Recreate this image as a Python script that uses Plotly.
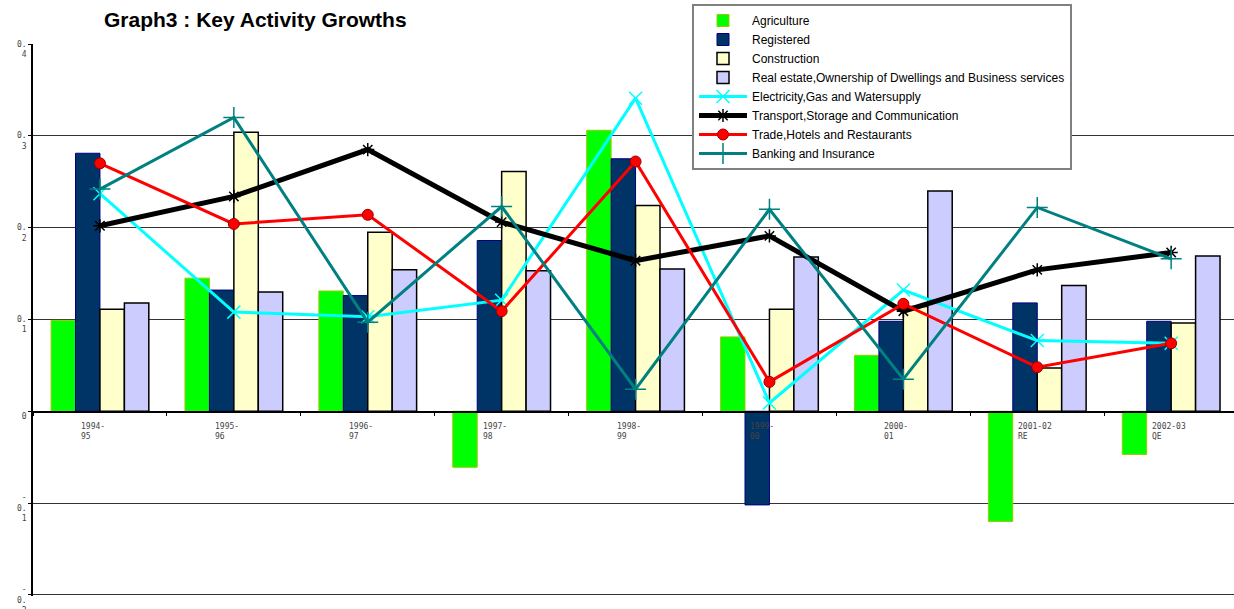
import plotly.graph_objects as go

categories = ["1994-95", "1995-96", "1996-97", "1997-98", "1998-99",
              "1999-00", "2000-01", "2001-02 RE", "2002-03 QE"]
category_labels = ["1994-<br>95", "1995-<br>96", "1996-<br>97", "1997-<br>98", "1998-<br>99",
                   "1999-<br>00", "2000-<br>01", "2001-02<br>RE", "2002-03<br>QE"]

agriculture = [0.099, 0.145, 0.131, -0.061, 0.306, 0.081, 0.061, -0.120, -0.047]
registered = [0.281, 0.132, 0.126, 0.186, 0.275, -0.102, 0.098, 0.118, 0.098]
construction = [0.111, 0.304, 0.195, 0.261, 0.224, 0.111, 0.114, 0.047, 0.096]
real_estate = [0.118, 0.130, 0.154, 0.153, 0.155, 0.168, 0.240, 0.137, 0.169]
electricity = [0.237, 0.108, 0.103, 0.121, 0.341, 0.009, 0.132, 0.077, 0.074]
transport = [0.202, 0.234, 0.285, 0.206, 0.164, 0.191, 0.109, 0.154, 0.173]
trade = [0.270, 0.204, 0.214, 0.109, 0.272, 0.032, 0.117, 0.048, 0.074]
banking = [0.242, 0.320, 0.097, 0.223, 0.024, 0.220, 0.035, 0.222, 0.166]

y_tickvals = [-0.2, -0.1, 0, 0.1, 0.2, 0.3, 0.4]
y_ticktext = ["-<br>0.<br>2", "-<br>0.<br>1", "0", "0.<br>1", "0.<br>2", "0.<br>3", "0.<br>4"]

fig = go.Figure()

bar_specs = [
    ("Agriculture", agriculture, "#00FF00", "#99CC00", 1),
    ("Registered", registered, "#003366", "#000080", 1),
    ("Construction", construction, "#FFFFCC", "#000000", 1.5),
    ("Real estate,Ownership of Dwellings and Business services", real_estate, "#CCCCFF", "#000000", 1.5),
]
for name, vals, fill, edge, lw in bar_specs:
    fig.add_trace(go.Bar(x=categories, y=vals, name=name,
                         marker=dict(color=fill, line=dict(color=edge, width=lw))))

line_specs = [
    ("Electricity,Gas and Watersupply", electricity, "#00FFFF", 3, "x-thin-open", 13, "#00FFFF"),
    ("Transport,Storage and Communication", transport, "#000000", 5, "asterisk-open", 11, "#000000"),
    ("Trade,Hotels and Restaurants", trade, "#FF0000", 3, "circle", 11, "#990000"),
    ("Banking and Insurance", banking, "#008080", 3, "cross-thin-open", 15, "#008080"),
]
for name, vals, color, lw, sym, size, mline in line_specs:
    fig.add_trace(go.Scatter(x=categories, y=vals, name=name, mode="lines+markers",
                             line=dict(color=color, width=lw),
                             marker=dict(symbol=sym, size=size, color=color,
                                         line=dict(color=mline, width=1.5 if "open" in sym else 1))))

for cat, lab in zip(categories, category_labels):
    fig.add_annotation(x=cat, y=0, xref="x", yref="y", text=lab, showarrow=False,
                       xanchor="left", yanchor="top", align="left", xshift=-21, yshift=-9,
                       font=dict(family="DejaVu Sans Mono", size=8, color="#444444"))

fig.update_layout(
    width=1234, height=609,
    margin=dict(l=33, r=0, t=44, b=13),
    paper_bgcolor="white", plot_bgcolor="white",
    barmode="group", bargap=0.27, bargroupgap=0,
    title=dict(text="<b>Graph3 : Key Activity Growths</b>", x=104 / 1234, xanchor="left",
               xref="container", y=1 - 20 / 609, yanchor="middle", yref="container",
               font=dict(family="Liberation Sans, Arial", size=21, color="#000000")),
    legend=dict(x=(692 - 33) / 1201, y=1 + 40 / 552, xanchor="left", yanchor="top",
                bgcolor="white", bordercolor="#808080", borderwidth=2,
                font=dict(family="Liberation Sans, Arial", size=12, color="#000000"),
                itemwidth=48, traceorder="normal"),
    xaxis=dict(type="category", range=[-0.5, -0.5 + (1234 - 33) / 133.9],
               showgrid=False, showticklabels=False, ticks="outside", ticklen=3,
               tickson="boundaries", tickcolor="#000000",
               showline=True, linecolor="#000000", linewidth=1.5,
               anchor="free", position=1 / 3, zeroline=False, automargin=False),
    yaxis=dict(range=[-0.2012, 0.4], tickvals=y_tickvals, ticktext=y_ticktext,
               showgrid=True, gridcolor="#333333", gridwidth=1,
               zeroline=False, showline=True, linecolor="#000000", linewidth=1.5,
               ticks="outside", ticklen=3, tickcolor="#000000", ticklabelshift=5,
               ticklabeloverflow="allow", automargin=False,
               tickfont=dict(family="DejaVu Sans Mono", size=8, color="#444444")),
)

fig.write_html("out.html", config={"displayModeBar": False},
               post_script="document.body.style.margin='0';")
